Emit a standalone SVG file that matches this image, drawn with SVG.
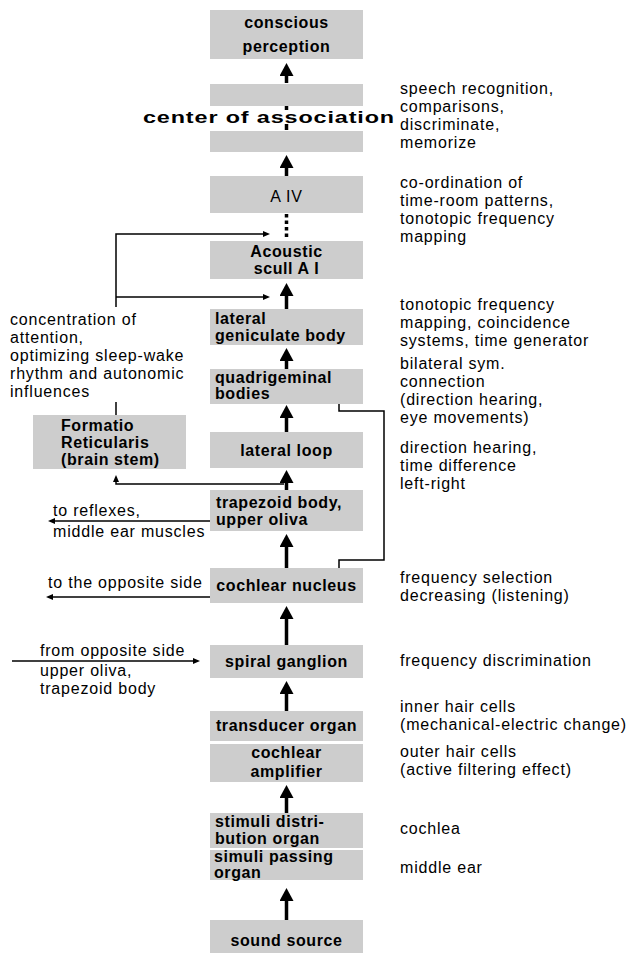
<svg xmlns="http://www.w3.org/2000/svg" width="635" height="953" viewBox="0 0 635 953">
<defs>
<style>
.box{fill:#cdcdcd}
.b{font-family:"Liberation Sans",Arial,sans-serif;font-weight:bold;font-size:16px;letter-spacing:0.6px;fill:#000}
.bc{text-anchor:middle}
.t{font-family:"Liberation Sans",Arial,sans-serif;font-size:16px;letter-spacing:0.8px;fill:#000}
.thick{stroke:#000;stroke-width:3.5;fill:none}
.thin{stroke:#000;stroke-width:1.5;fill:none}
</style>
<marker id="big" viewBox="0 -7 13 14" refX="0" refY="0" markerWidth="13" markerHeight="14" markerUnits="userSpaceOnUse" orient="auto">
<path d="M0,-7 L13,0 L0,7 z" fill="#000"/>
</marker>
<marker id="small" viewBox="0 -3 7 6" refX="0" refY="0" markerWidth="7" markerHeight="6" markerUnits="userSpaceOnUse" orient="auto">
<path d="M0,-3 L7,0 L0,3 z" fill="#000"/>
</marker>
</defs>
<rect width="635" height="953" fill="#fff"/>

<g id="connectors">
<line class="thick" x1="286.5" y1="83" x2="286.5" y2="76" marker-end="url(#big)"/>
<line class="thick" x1="286.5" y1="105" x2="286.5" y2="110"/>
<line class="thick" x1="286.5" y1="124" x2="286.5" y2="130"/>
<line class="thick" x1="286.5" y1="176" x2="286.5" y2="168" marker-end="url(#big)"/>
<line class="thick" x1="286.5" y1="214" x2="286.5" y2="240" stroke-dasharray="3.5,3"/>
<line class="thick" x1="286.5" y1="309" x2="286.5" y2="296" marker-end="url(#big)"/>
<line class="thick" x1="286.5" y1="369" x2="286.5" y2="361" marker-end="url(#big)"/>
<line class="thick" x1="286.5" y1="432" x2="286.5" y2="418" marker-end="url(#big)"/>
<line class="thick" x1="286.5" y1="490" x2="286.5" y2="483" marker-end="url(#big)"/>
<line class="thick" x1="286.5" y1="568" x2="286.5" y2="547" marker-end="url(#big)"/>
<line class="thick" x1="286.5" y1="645" x2="286.5" y2="619" marker-end="url(#big)"/>
<line class="thick" x1="286.5" y1="711" x2="286.5" y2="694" marker-end="url(#big)"/>
<line class="thick" x1="286.5" y1="813" x2="286.5" y2="798" marker-end="url(#big)"/>
<line class="thick" x1="286.5" y1="920" x2="286.5" y2="901" marker-end="url(#big)"/>

<path class="thin" d="M116,307 V234 H263" marker-end="url(#small)"/>
<path class="thin" d="M116,297 H263" marker-end="url(#small)"/>
<line class="thin" x1="116" y1="402" x2="116" y2="415"/>
<path class="thin" d="M284,484 H116 V482" marker-end="url(#small)"/>
<line class="thin" x1="210" y1="521" x2="55" y2="521" marker-end="url(#small)"/>
<line class="thin" x1="210" y1="597" x2="53" y2="597" marker-end="url(#small)"/>
<line class="thin" x1="12" y1="661" x2="193" y2="661" marker-end="url(#small)"/>
<path class="thin" d="M339,404 V411 H384 V560 H339 V568"/>
</g>

<g id="conscious-perception">
<rect class="box" x="210" y="10" width="153" height="49"/>
<text class="b bc" x="286.5" y="28" font-size="20">conscious<tspan x="286.5" dy="24">perception</tspan></text>
</g>
<g id="center-of-association">
<rect class="box" x="210" y="84" width="153" height="22"/>
<rect class="box" x="210" y="131" width="153" height="21"/>
<text class="b bc" x="269" y="123" font-size="21" textLength="252" lengthAdjust="spacingAndGlyphs">center of association</text>
</g>
<g id="a-iv">
<rect class="box" x="210" y="176" width="153" height="37"/>
<text class="t bc" x="286.5" y="202" font-size="19">A IV</text>
</g>
<g id="acoustic-scull">
<rect class="box" x="210" y="241" width="153" height="38"/>
<text class="b bc" x="286.5" y="257">Acoustic<tspan x="286.5" dy="17">scull A I</tspan></text>
</g>
<g id="lateral-geniculate">
<rect class="box" x="210" y="309" width="153" height="36"/>
<text class="b" x="215" y="324">lateral<tspan x="215" dy="17">geniculate body</tspan></text>
</g>
<g id="quadrigeminal">
<rect class="box" x="210" y="369" width="153" height="35"/>
<text class="b" x="215" y="383">quadrigeminal<tspan x="215" dy="16">bodies</tspan></text>
</g>
<g id="lateral-loop">
<rect class="box" x="210" y="432" width="153" height="36"/>
<text class="b bc" x="286.5" y="456">lateral loop</text>
</g>
<g id="formatio-reticularis">
<rect class="box" x="33" y="415" width="153" height="54"/>
<text class="b" x="61" y="431">Formatio<tspan x="61" dy="17">Reticularis</tspan><tspan x="61" dy="17">(brain stem)</tspan></text>
</g>
<g id="trapezoid">
<rect class="box" x="210" y="490" width="153" height="41"/>
<text class="b" x="216" y="508">trapezoid body,<tspan x="216" dy="17">upper oliva</tspan></text>
</g>
<g id="cochlear-nucleus">
<rect class="box" x="210" y="568" width="153" height="35"/>
<text class="b bc" x="286.5" y="591">cochlear nucleus</text>
</g>
<g id="spiral-ganglion">
<rect class="box" x="210" y="645" width="153" height="33"/>
<text class="b bc" x="286.5" y="667">spiral ganglion</text>
</g>
<g id="transducer-organ">
<rect class="box" x="210" y="711" width="153" height="30"/>
<text class="b bc" x="286.5" y="731">transducer organ</text>
</g>
<g id="cochlear-amplifier">
<rect class="box" x="210" y="744" width="153" height="38"/>
<text class="b bc" x="286.5" y="758">cochlear<tspan x="286.5" dy="19">amplifier</tspan></text>
</g>
<g id="stimuli-distribution">
<rect class="box" x="210" y="813" width="153" height="35"/>
<text class="b" x="215" y="827">stimuli distri-<tspan x="215" dy="17">bution organ</tspan></text>
</g>
<g id="simuli-passing">
<rect class="box" x="210" y="850" width="153" height="30"/>
<text class="b" x="214" y="862">simuli passing<tspan x="214" dy="16">organ</tspan></text>
</g>
<g id="sound-source">
<rect class="box" x="210" y="920" width="153" height="33"/>
<text class="b bc" x="286.5" y="946">sound source</text>
</g>

<g id="annotations-right">
<text class="t" x="400" y="94">speech recognition,<tspan x="400" dy="18">comparisons,</tspan><tspan x="400" dy="18">discriminate,</tspan><tspan x="400" dy="18">memorize</tspan></text>
<text class="t" x="400" y="188">co-ordination of<tspan x="400" dy="18">time-room patterns,</tspan><tspan x="400" dy="18">tonotopic frequency</tspan><tspan x="400" dy="18">mapping</tspan></text>
<text class="t" x="400" y="310">tonotopic frequency<tspan x="400" dy="18">mapping, coincidence</tspan><tspan x="400" dy="18">systems, time generator</tspan></text>
<text class="t" x="400" y="369">bilateral sym.<tspan x="400" dy="18">connection</tspan><tspan x="400" dy="18">(direction hearing,</tspan><tspan x="400" dy="18">eye movements)</tspan></text>
<text class="t" x="400" y="453">direction hearing,<tspan x="400" dy="18">time difference</tspan><tspan x="400" dy="18">left-right</tspan></text>
<text class="t" x="400" y="583">frequency selection<tspan x="400" dy="18">decreasing (listening)</tspan></text>
<text class="t" x="400" y="666">frequency discrimination</text>
<text class="t" x="400" y="712">inner hair cells<tspan x="400" dy="18">(mechanical-electric change)</tspan></text>
<text class="t" x="400" y="757">outer hair cells<tspan x="400" dy="18">(active filtering effect)</tspan></text>
<text class="t" x="400" y="834">cochlea</text>
<text class="t" x="400" y="873">middle ear</text>
</g>

<g id="annotations-left">
<text class="t" x="10" y="325">concentration of<tspan x="10" dy="18">attention,</tspan><tspan x="10" dy="18">optimizing sleep-wake</tspan><tspan x="10" dy="18">rhythm and autonomic</tspan><tspan x="10" dy="18">influences</tspan></text>
<text class="t" x="53" y="516">to reflexes,<tspan x="53" dy="21">middle ear muscles</tspan></text>
<text class="t" x="48" y="588">to the opposite side</text>
<text class="t" x="40" y="656">from opposite side<tspan x="40" dy="20">upper oliva,</tspan><tspan x="40" dy="18">trapezoid body</tspan></text>
</g>
</svg>
